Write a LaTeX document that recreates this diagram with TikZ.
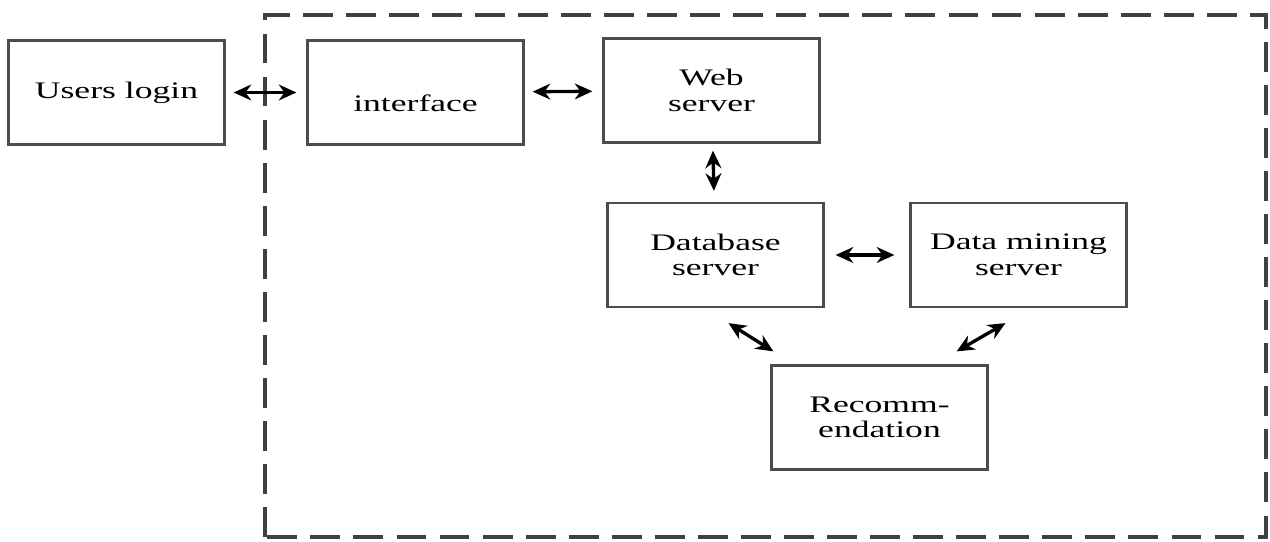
\documentclass[tikz,border=0pt]{standalone}
\usepackage{fontspec}
\usepackage{tikz}
\usetikzlibrary{arrows.meta,calc}
\newfontfamily\boxfont[FakeStretch=1.5]{Liberation Serif}

\tikzset{
  block/.style={draw=black!70, line width=1.3pt, minimum width=4.32cm, minimum height=2.08cm,
    align=center, font=\boxfont\fontsize{13.5}{14.5}\selectfont},
  link/.style={<->, line width=1.9pt, shorten <=0.16cm, shorten >=0.2cm},
}

\begin{document}
\begin{tikzpicture}[>={Stealth[length=10pt,width=9pt]}]
        \useasboundingbox (0, 0) rectangle (25.4, 10.82);

        % system boundary
        \draw[black!75, line width=2.3pt, dash pattern=on 17pt off 7.5pt] (5.3, 0.08) rectangle (25.32, 10.52);

        \node[block] (login) at (2.33, 8.97) {Users login};
        \node[block] (iface) at (8.31, 8.97) {\raisebox{-0.38cm}[0pt][0pt]{interface}};
        \node[block] (web) at (14.23, 9.01) {Web\\server};
        \node[block] (db) at (14.31, 5.72) {Database\\server};
        \node[block] (mining) at (20.37, 5.72) {Data mining\\server};
        \node[block] (rec) at (17.59, 2.47) {Recomm-\\endation};

        \draw[link] (login) -- (iface);
        \draw[link] (iface) -- (web);
        \draw[link, shorten <=0.14cm, shorten >=0.22cm] (web) -- (db);
        \draw[link, shorten <=0.22cm, shorten >=0.3cm] (db) -- (mining);
        \draw[<->, line width=1.9pt] ([shift={(0.26,-0.3)}]db.south) -- ([shift={(0.06,0.26)}]rec.north west);
        \draw[<->, line width=1.9pt] ([shift={(-0.26,-0.3)}]mining.south) -- ([shift={(-0.64,0.26)}]rec.north east);
      \end{tikzpicture}
\end{document}
